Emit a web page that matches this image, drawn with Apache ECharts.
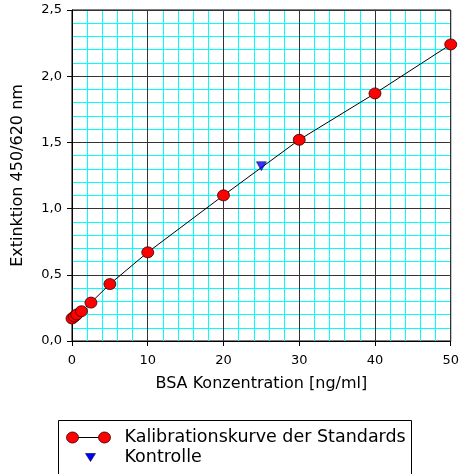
<!DOCTYPE html>
<html>
<head>
<meta charset="utf-8">
<script src="https://cdn.jsdelivr.net/npm/echarts@6/dist/echarts.min.js"></script>
<style>
    html, body { margin: 0; padding: 0; background: #fff; }
    #chart { width: 462px; height: 474px; }
</style>
</head>
<body>
<div id="chart"></div>
<script>
// Kalibrationskurve (BSA Standards)
var stdConc = [0, 0.3125, 0.625, 1.25, 2.5, 5, 10, 20, 30, 40, 50];
var stdExt = [0.17, 0.185, 0.20, 0.225, 0.29, 0.43, 0.67, 1.10, 1.52, 1.87, 2.24];
// Kontrolle
var ctrlConc = [25];
var ctrlExt = [1.32];

var xTicks = [0, 10, 20, 30, 40, 50];
var yTicks = [0, 0.5, 1.0, 1.5, 2.0, 2.5];

var seriesNames = ['Kalibrationskurve der Standards', 'Kontrolle'];

function pairs(xs, ys) {
    var out = [];
    for (var i = 0; i < xs.length; i++) {
        out.push([xs[i], ys[i]]);
    }
    return out;
}

var font = 'DejaVu Sans';
var xMin = xTicks[0], xMax = xTicks[xTicks.length - 1];
var yMin = yTicks[0], yMax = yTicks[yTicks.length - 1];

// hidden axis only for the cyan fine grid
function fineAxis(min, max, step) {
    return {
        type: 'value',
        min: min,
        max: max,
        interval: step,
        z: 0,
        axisLine: {show: false},
        axisTick: {show: false},
        axisLabel: {show: false},
        splitLine: {show: true, lineStyle: {color: '#00ffff', width: 1}}
    };
}

var myChart = echarts.init(document.getElementById('chart'), null, {renderer: 'canvas'});
var option = {
    animation: false,
    backgroundColor: '#fff',
    grid: {
        left: 72,
        top: 10,
        right: 10,
        bottom: 133,
        show: true,
        borderColor: '#000',
        borderWidth: 1
    },
    xAxis: [{
        type: 'value',
        min: xMin,
        max: xMax,
        interval: 10,
        z: 2,
        name: 'BSA Konzentration [ng/ml]',
        nameLocation: 'middle',
        nameGap: 35,
        nameTextStyle: {fontFamily: font, fontSize: 16, color: '#000'},
        axisLine: {lineStyle: {color: '#000', width: 1}},
        axisTick: {show: true, length: 5, lineStyle: {color: '#000'}},
        axisLabel: {fontFamily: font, fontSize: 13, color: '#000', margin: 13},
        splitLine: {show: true, lineStyle: {color: '#333', width: 1}}
    }, fineAxis(xMin, xMax, 2)],
    yAxis: [{
        type: 'value',
        min: yMin,
        max: yMax,
        interval: 0.5,
        z: 2,
        name: 'Extinktion 450/620 nm',
        nameLocation: 'middle',
        nameGap: 46,
        nameTextStyle: {fontFamily: font, fontSize: 16, color: '#000'},
        axisLine: {show: true, lineStyle: {color: '#000', width: 1}},
        axisTick: {show: true, length: 5, lineStyle: {color: '#000'}},
        axisLabel: {
            fontFamily: font, fontSize: 13, color: '#000', margin: 10,
            formatter: function (v) {
                return v.toFixed(1).replace('.', ',');
            }
        },
        splitLine: {show: true, lineStyle: {color: '#333', width: 1}}
    }, fineAxis(yMin, yMax, 0.1)],
    series: [{
        name: seriesNames[0],
        type: 'line',
        data: pairs(stdConc, stdExt),
        symbol: 'circle',
        symbolSize: [12, 11],
        lineStyle: {color: '#000', width: 1},
        itemStyle: {color: '#ff0000', borderColor: '#300000', borderWidth: 0.8},
        z: 3
    }, {
        name: seriesNames[1],
        type: 'scatter',
        data: pairs(ctrlConc, ctrlExt),
        symbol: 'triangle',
        symbolRotate: 180,
        symbolSize: [10, 9],
        itemStyle: {color: '#0000ff', borderColor: '#000030', borderWidth: 0.6},
        z: 4
    }],
    graphic: [{
        type: 'group',
        left: 58,
        top: 420,
        children: [{
            type: 'rect',
            shape: {x: 0, y: 0, width: 353, height: 60},
            style: {fill: '#fff', stroke: '#000', lineWidth: 1}
        }, {
            type: 'line',
            shape: {x1: 14, y1: 17, x2: 46, y2: 17},
            style: {stroke: '#000', lineWidth: 1}
        }, {
            type: 'ellipse',
            shape: {cx: 14, cy: 17, rx: 6, ry: 5.5},
            style: {fill: '#ff0000', stroke: '#300000', lineWidth: 0.8}
        }, {
            type: 'ellipse',
            shape: {cx: 46, cy: 17, rx: 6, ry: 5.5},
            style: {fill: '#ff0000', stroke: '#300000', lineWidth: 0.8}
        }, {
            type: 'polygon',
            shape: {points: [[27, 33], [37, 33], [32, 41]]},
            style: {fill: '#0000ff', stroke: '#000030', lineWidth: 0.6}
        }, {
            type: 'text',
            x: 66,
            y: 17,
            style: {text: seriesNames[0], font: '17.5px "DejaVu Sans"', fill: '#000', verticalAlign: 'middle'}
        }, {
            type: 'text',
            x: 66,
            y: 37,
            style: {text: seriesNames[1], font: '17.5px "DejaVu Sans"', fill: '#000', verticalAlign: 'middle'}
        }]
    }]
};
myChart.setOption(option);
</script>
</body>
</html>
